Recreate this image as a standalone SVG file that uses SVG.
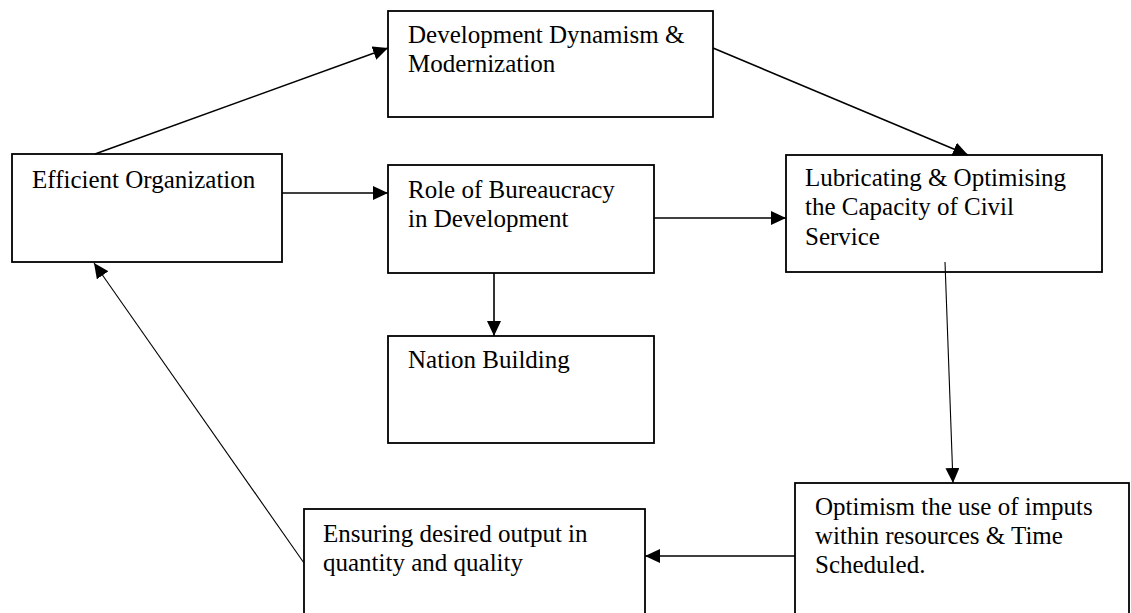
<svg xmlns="http://www.w3.org/2000/svg" width="1131" height="613" viewBox="0 0 1131 613">
<style>
.box{fill:#fff;stroke:#000;stroke-width:1.8}
.t{font-family:"Liberation Serif","Times New Roman",serif;font-size:25px;fill:#000}
.c{fill:none;stroke:#000;stroke-width:1.6}
.thin{stroke-width:1.1}
</style>
<defs>
<marker id="ah" markerUnits="userSpaceOnUse" markerWidth="16" markerHeight="14" refX="15" refY="7" orient="auto" viewBox="0 0 16 14">
<path d="M0,0 L15,7 L0,14 Z" fill="#000"/>
</marker>
</defs>
<rect width="1131" height="613" fill="#fff"/>
<g id="n-efficient">
<rect class="box" x="12" y="154" width="270" height="108"/>
<text class="t" x="32" y="188">Efficient Organization</text>
</g>
<g id="n-development">
<rect class="box" x="388" y="11" width="325" height="106"/>
<text class="t" x="408" y="43">Development Dynamism &amp;</text>
<text class="t" x="408" y="72">Modernization</text>
</g>
<g id="n-role">
<rect class="box" x="388" y="165" width="266" height="108"/>
<text class="t" x="408" y="198">Role of Bureaucracy</text>
<text class="t" x="408" y="227">in Development</text>
</g>
<g id="n-lubricating">
<rect class="box" x="786" y="155" width="316" height="117"/>
<text class="t" x="805" y="186">Lubricating &amp; Optimising</text>
<text class="t" x="805" y="215">the Capacity of Civil</text>
<text class="t" x="805" y="245">Service</text>
</g>
<g id="n-nation">
<rect class="box" x="388" y="336" width="266" height="107"/>
<text class="t" x="408" y="368">Nation Building</text>
</g>
<g id="n-ensuring">
<rect class="box" x="304" y="509" width="341" height="120"/>
<text class="t" x="323" y="542">Ensuring desired output in</text>
<text class="t" x="323" y="571">quantity and quality</text>
</g>
<g id="n-optimism">
<rect class="box" x="795" y="483" width="334" height="140"/>
<text class="t" x="815" y="515">Optimism the use of imputs</text>
<text class="t" x="815" y="544">within resources &amp; Time</text>
<text class="t" x="815" y="573">Scheduled.</text>
</g>
<g id="connectors">
<line class="c" x1="95" y1="154" x2="388" y2="48" marker-end="url(#ah)"/>
<line class="c" x1="282" y1="193" x2="388" y2="193" marker-end="url(#ah)"/>
<line class="c" x1="713" y1="48" x2="968" y2="155" marker-end="url(#ah)"/>
<line class="c" x1="654" y1="218" x2="786" y2="218" marker-end="url(#ah)"/>
<line class="c" x1="494" y1="273" x2="494" y2="336" marker-end="url(#ah)"/>
<line class="c thin" x1="945" y1="262" x2="953" y2="483" marker-end="url(#ah)"/>
<line class="c" x1="795" y1="556" x2="645" y2="556" marker-end="url(#ah)"/>
<line class="c thin" x1="304" y1="563" x2="94" y2="263" marker-end="url(#ah)"/>
</g>
</svg>
